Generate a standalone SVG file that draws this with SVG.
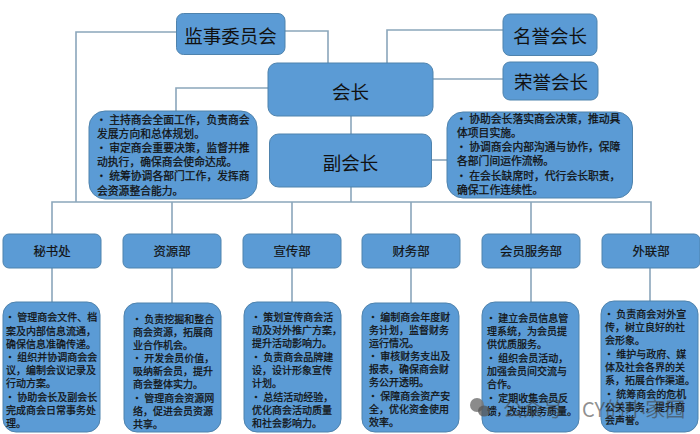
<svg xmlns="http://www.w3.org/2000/svg" width="700" height="434" viewBox="0 0 700 434">
<style>
.b{fill:#5b9bd5;stroke:#4f83ad;stroke-width:1}
.c{fill:none;stroke:#8ba6bb;stroke-width:1.6}
text{font-family:"Noto Sans CJK SC","Liberation Sans",sans-serif;fill:#111}
.t{font-size:18.5px;text-anchor:middle;dominant-baseline:central}
.d{font-size:12.4px;text-anchor:middle;dominant-baseline:central;stroke:#111;stroke-width:.2}
.x{font-size:10.8px;stroke:#111;stroke-width:.25}
.y{font-size:10px;stroke:#111;stroke-width:.25}
.w{font-size:20px;fill:#444;fill-opacity:.6}
</style>
<rect width="700" height="434" fill="#fff"/>
<g id="connectors" class="c">
<path d="M176 32H76V202"/><path d="M285 31H328V63"/>
<path d="M268 88H176V111"/>
<path d="M387 63V30H503"/><path d="M433 79H503"/>
<path d="M351 116V134"/><path d="M351 187V202"/><path d="M432 160H447"/>
<path d="M52 234V202H651V234"/>
<path d="M172 202V234M292 202V234M411 202V234M531 202V234"/>
<path d="M52 268V302M172 268V303M292 268V302M411 268V303M531 268V302M650 268V301"/>
</g>
<g id="n-jianshi"><rect class="b" x="176.500" y="13.500" width="108.500" height="41" rx="7"/><text class="t" x="230.500" y="35">监事委员会</text></g>
<g id="n-mingyu"><rect class="b" x="503" y="14" width="94" height="41.500" rx="7"/><text class="t" x="550" y="35">名誉会长</text></g>
<g id="n-rongyu"><rect class="b" x="503" y="62" width="95" height="38" rx="7"/><text class="t" x="551" y="81">荣誉会长</text></g>
<g id="n-huizhang"><rect class="b" x="268" y="63" width="165" height="53" rx="9"/><text class="t" x="350.500" y="91">会长</text></g>
<g id="n-fuhuizhang"><rect class="b" x="269.500" y="134" width="162" height="53" rx="9"/><text class="t" x="350.500" y="162">副会长</text></g>
<g id="n-desc1"><rect class="b" x="89" y="111" width="168" height="88" rx="16"/>
<text class="x"><tspan x="96" y="124">· 主持商会全面工作，负责商会</tspan><tspan x="97" y="138">发展方向和总体规划。</tspan><tspan x="96" y="152">· 审定商会重要决策，监督并推</tspan><tspan x="97" y="166">动执行，确保商会使命达成。</tspan><tspan x="96" y="180">· 统筹协调各部门工作，发挥商</tspan><tspan x="97" y="195">会资源整合能力。</tspan></text></g>
<g id="n-desc2"><rect class="b" x="447" y="112" width="185.500" height="86" rx="16"/>
<text class="x"><tspan x="456" y="123">· 协助会长落实商会决策，推动具</tspan><tspan x="457" y="137">体项目实施。</tspan><tspan x="456" y="151">· 协调商会内部沟通与协作，保障</tspan><tspan x="457" y="165">各部门间运作流畅。</tspan><tspan x="456" y="180">· 在会长缺席时，代行会长职责，</tspan><tspan x="457" y="194">确保工作连续性。</tspan></text></g>
<g id="d1"><rect class="b" x="3" y="234" width="98" height="34" rx="6"/><text class="d" x="52" y="251">秘书处</text></g>
<g id="d2"><rect class="b" x="123" y="234" width="98" height="34" rx="6"/><text class="d" x="172" y="251">资源部</text></g>
<g id="d3"><rect class="b" x="243" y="234" width="98" height="34" rx="6"/><text class="d" x="292" y="251">宣传部</text></g>
<g id="d4"><rect class="b" x="362" y="234" width="98" height="34" rx="6"/><text class="d" x="411" y="251">财务部</text></g>
<g id="d5"><rect class="b" x="482" y="234" width="98" height="34" rx="6"/><text class="d" x="531" y="251">会员服务部</text></g>
<g id="d6"><rect class="b" x="602" y="234" width="98" height="34" rx="6"/><text class="d" x="651" y="251">外联部</text></g>
<g id="p1"><rect class="b" x="3" y="302" width="97" height="130" rx="13"/>
<text class="y"><tspan x="5" y="321">· 管理商会文件、档</tspan><tspan x="6" y="335">案及内部信息流通，</tspan><tspan x="6" y="348">确保信息准确传递。</tspan><tspan x="5" y="361">· 组织并协调商会会</tspan><tspan x="6" y="374">议，编制会议记录及</tspan><tspan x="6" y="387">行动方案。</tspan><tspan x="5" y="401">· 协助会长及副会长</tspan><tspan x="6" y="414">完成商会日常事务处</tspan><tspan x="6" y="427">理。</tspan></text></g>
<g id="p2"><rect class="b" x="124" y="303" width="97" height="129" rx="13"/>
<text class="y"><tspan x="132" y="323">· 负责挖掘和整合</tspan><tspan x="133" y="336">商会资源，拓展商</tspan><tspan x="133" y="349">业合作机会。</tspan><tspan x="132" y="362">· 开发会员价值，</tspan><tspan x="133" y="375">吸纳新会员，提升</tspan><tspan x="133" y="388">商会整体实力。</tspan><tspan x="132" y="402">· 管理商会资源网</tspan><tspan x="133" y="415">络，促进会员资源</tspan><tspan x="133" y="428">共享。</tspan></text></g>
<g id="p3"><rect class="b" x="244" y="302" width="97" height="130" rx="13"/>
<text class="y"><tspan x="251" y="321">· 策划宣传商会活</tspan><tspan x="252" y="334">动及对外推广方案，</tspan><tspan x="252" y="347">提升活动影响力。</tspan><tspan x="251" y="361">· 负责商会品牌建</tspan><tspan x="252" y="374">设，设计形象宣传</tspan><tspan x="252" y="387">计划。</tspan><tspan x="251" y="401">· 总结活动经验，</tspan><tspan x="252" y="414">优化商会活动质量</tspan><tspan x="252" y="427">和社会影响力。</tspan></text></g>
<g id="p4"><rect class="b" x="362" y="303" width="97" height="129" rx="13"/>
<text class="y"><tspan x="368" y="321">· 编制商会年度财</tspan><tspan x="369" y="334">务计划，监督财务</tspan><tspan x="369" y="347">运行情况。</tspan><tspan x="368" y="360">· 审核财务支出及</tspan><tspan x="369" y="373">报表，确保商会财</tspan><tspan x="369" y="386">务公开透明。</tspan><tspan x="368" y="400">· 保障商会资产安</tspan><tspan x="369" y="413">全，优化资金使用</tspan><tspan x="369" y="426">效率。</tspan></text></g>
<g id="p5"><rect class="b" x="482" y="302" width="97" height="130" rx="13"/>
<text class="y"><tspan x="486" y="322">· 建立会员信息管</tspan><tspan x="487" y="335">理系统，为会员提</tspan><tspan x="487" y="348">供优质服务。</tspan><tspan x="486" y="362">· 组织会员活动，</tspan><tspan x="487" y="375">加强会员间交流与</tspan><tspan x="487" y="388">合作。</tspan><tspan x="486" y="402">· 定期收集会员反</tspan><tspan x="487" y="415">馈，改进服务质量。</tspan></text></g>
<g id="p6"><rect class="b" x="601" y="301" width="97" height="131" rx="13"/>
<text class="y"><tspan x="604" y="318">· 负责商会对外宣</tspan><tspan x="605" y="331">传，树立良好的社</tspan><tspan x="605" y="344">会形象。</tspan><tspan x="604" y="358">· 维护与政府、媒</tspan><tspan x="605" y="371">体及社会各界的关</tspan><tspan x="605" y="384">系，拓展合作渠道。</tspan><tspan x="604" y="398">· 统筹商会的危机</tspan><tspan x="605" y="411">公关事务，提升商</tspan><tspan x="605" y="424">会声誉。</tspan></text></g>
<g id="watermark">
<ellipse cx="477" cy="405" rx="7" ry="7" fill="#777" fill-opacity=".85"/>
<ellipse cx="484" cy="411" rx="6" ry="5.500" fill="#555" fill-opacity=".75"/>
<text class="w" x="503" y="417">公众号</text>
<text class="w" x="582" y="417">CY的小家园</text>
</g>
</svg>
